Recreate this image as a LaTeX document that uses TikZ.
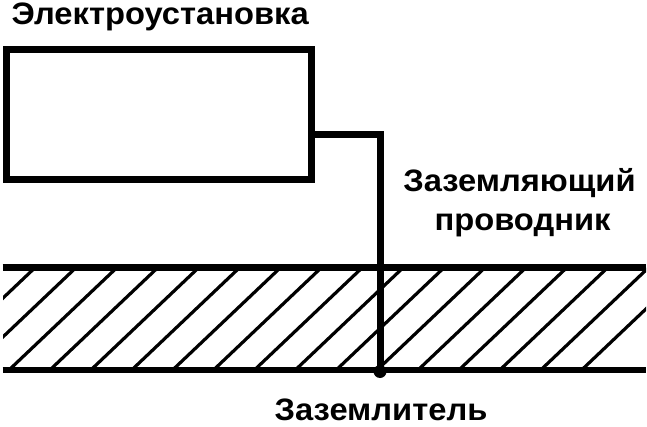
\documentclass[tikz,border=0pt]{standalone}
\usepackage{fontspec}
\setmainfont{Liberation Sans}
\newfontfamily\lblfont[FakeStretch=1.055]{Liberation Sans Bold}
\begin{document}
\begin{tikzpicture}[x=1pt,y=-1pt,
  heavy/.style={line width=7pt},
  groundline/.style={line width=6.7pt},
  hatchline/.style={line width=3.2pt},
  lbl/.style={inner sep=0pt, font=\lblfont\fontsize{31}{37}\selectfont}]
\useasboundingbox (0,0) rectangle (647,427);
% installation box
\node[draw, heavy, outer sep=0pt, inner sep=0pt, minimum width=305pt, minimum height=129.5pt] (box) at (158.5,114.75) {};
% hatching of the soil
\begin{scope}
  \clip (3,267.5) rectangle (646,370);
  \foreach \k in {0,...,16}
    \draw[hatchline] ({-72.8+40.9*\k},370) -- ++(108,-102.5);
\end{scope}
% ground surface and bottom line
\draw[groundline] (2.5,267.5) -- (646,267.5);
\draw[groundline] (2.5,370) -- (646,370);
% earth electrode dot
\node[circle, fill=black, inner sep=0pt, minimum size=13pt] (gnd) at (380,371.5) {};
% earthing conductor
\draw[heavy] ([yshift=-19.5pt]box.east) -| (gnd.center);
% labels
\node[lbl, anchor=base west] (inst) at (11.5,25) {Электроустановка};
\node[lbl, anchor=base] (cond1) at (519.5,191.7) {Заземляющий};
\node[lbl, anchor=base] (cond2) at (522.5,230.5) {проводник};
\node[lbl, anchor=base] (elec) at (381,420.5) {Заземлитель};
\end{tikzpicture}
\end{document}
